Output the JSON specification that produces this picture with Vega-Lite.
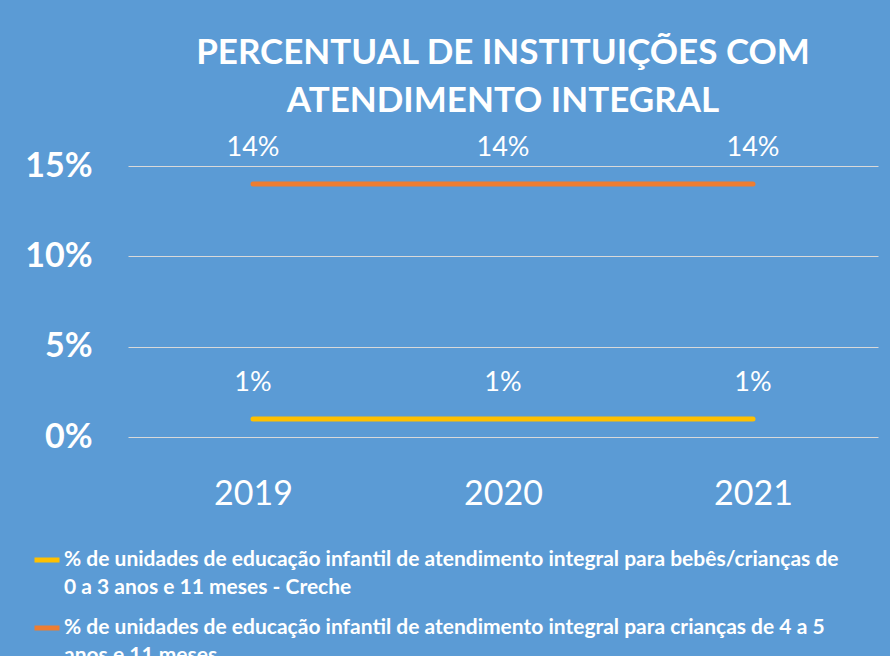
{
  "$schema": "https://vega.github.io/schema/vega-lite/v6.json",
  "autosize": "none",
  "width": 750,
  "height": 271,
  "padding": {"left": 128, "top": 166, "right": 12, "bottom": 219},
  "background": "#5B9BD5",
  "config": {
    "view": {"stroke": null},
    "style": {"guide-label": {"lineHeight": 28}}
  },
  "title": {
    "text": ["PERCENTUAL DE INSTITUIÇÕES COM", "ATENDIMENTO INTEGRAL"],
    "font": "Lato",
    "fontSize": 35,
    "fontWeight": "bold",
    "color": "white",
    "lineHeight": 48,
    "anchor": "middle",
    "offset": 15
  },
  "data": {
    "values": [
      {"ano": "2019", "serie": "% de unidades de educação infantil de atendimento integral para  bebês/crianças de|0 a 3 anos e 11 meses - Creche", "valor": 0.01},
      {"ano": "2020", "serie": "% de unidades de educação infantil de atendimento integral para  bebês/crianças de|0 a 3 anos e 11 meses - Creche", "valor": 0.01},
      {"ano": "2021", "serie": "% de unidades de educação infantil de atendimento integral para  bebês/crianças de|0 a 3 anos e 11 meses - Creche", "valor": 0.01},
      {"ano": "2019", "serie": "% de unidades de educação infantil de atendimento integral para crianças de 4 a 5|anos e 11 meses", "valor": 0.14},
      {"ano": "2020", "serie": "% de unidades de educação infantil de atendimento integral para crianças de 4 a 5|anos e 11 meses", "valor": 0.14},
      {"ano": "2021", "serie": "% de unidades de educação infantil de atendimento integral para crianças de 4 a 5|anos e 11 meses", "valor": 0.14}
    ]
  },
  "encoding": {
    "x": {
      "field": "ano",
      "type": "ordinal",
      "scale": {"type": "point", "padding": 0.5},
      "axis": {
        "title": null,
        "labelAngle": 0,
        "labelFontSize": 34,
        "labelFont": "Lato",
        "labelColor": "white",
        "labelPadding": 40,
        "ticks": false,
        "domain": false,
        "grid": false
      }
    },
    "y": {
      "field": "valor",
      "type": "quantitative",
      "scale": {"domain": [0, 0.15], "nice": false},
      "axis": {
        "title": null,
        "values": [0, 0.05, 0.1, 0.15],
        "format": ".0%",
        "labelFontSize": 34,
        "labelFontWeight": "bold",
        "labelFont": "Lato",
        "labelColor": "white",
        "labelPadding": 36,
        "ticks": false,
        "domain": false,
        "grid": true,
        "gridColor": "#D9D9D9",
        "gridWidth": 1
      }
    }
  },
  "layer": [
    {
      "mark": {"type": "line", "strokeWidth": 5, "strokeCap": "round"},
      "encoding": {
        "color": {
          "field": "serie",
          "type": "nominal",
          "sort": null,
          "scale": {
            "domain": [
              "% de unidades de educação infantil de atendimento integral para  bebês/crianças de|0 a 3 anos e 11 meses - Creche",
              "% de unidades de educação infantil de atendimento integral para crianças de 4 a 5|anos e 11 meses"
            ],
            "range": ["#FFC000", "#ED7D31"]
          },
          "legend": {
            "title": null,
            "orient": "none",
            "legendX": -96,
            "legendY": 379,
            "direction": "vertical",
            "symbolType": "stroke",
            "symbolStrokeWidth": 5,
            "symbolSize": 625,
            "labelExpr": "split(datum.label, '|')",
            "labelFont": "Lato",
            "labelFontSize": 21,
            "labelFontWeight": "bold",
            "labelColor": "white",
            "labelLimit": 0,
            "labelOffset": 2,
            "rowPadding": 15
          }
        }
      }
    },
    {
      "mark": {"type": "text", "dy": -36, "fontSize": 27, "font": "Lato", "color": "white"},
      "encoding": {
        "text": {"field": "valor", "type": "quantitative", "format": ".0%"}
      }
    }
  ]
}
